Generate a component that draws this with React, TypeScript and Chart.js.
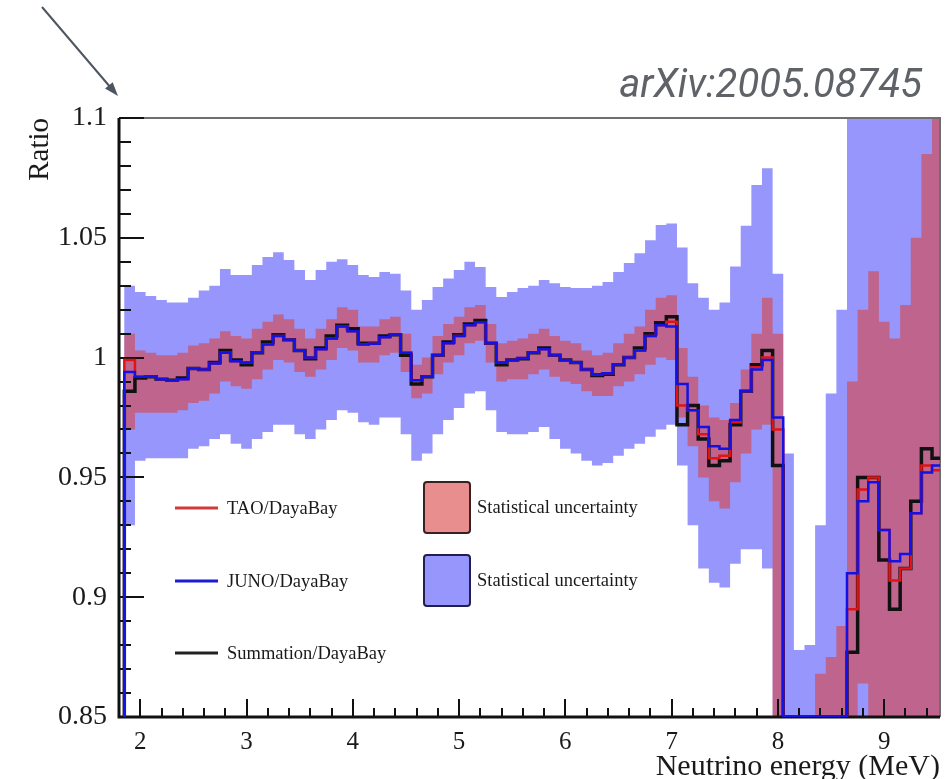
import React, { useEffect, useRef } from 'react';
import { Chart, registerables } from 'chart.js';

Chart.register(...registerables);

// Bin centres (MeV), bin width 0.1 MeV
const energy = [
  1.8, 1.9, 2.0, 2.1, 2.2, 2.3, 2.4, 2.5, 2.6, 2.7, 2.8, 2.9,
  3.0, 3.1, 3.2, 3.3, 3.4, 3.5, 3.6, 3.7, 3.8, 3.9,
  4.0, 4.1, 4.2, 4.3, 4.4, 4.5, 4.6, 4.7, 4.8, 4.9,
  5.0, 5.1, 5.2, 5.3, 5.4, 5.5, 5.6, 5.7, 5.8, 5.9,
  6.0, 6.1, 6.2, 6.3, 6.4, 6.5, 6.6, 6.7, 6.8, 6.9,
  7.0, 7.1, 7.2, 7.3, 7.4, 7.5, 7.6, 7.7, 7.8, 7.9,
  8.0, 8.1, 8.2, 8.3, 8.4, 8.5, 8.6, 8.7, 8.8, 8.9,
  9.0, 9.1, 9.2, 9.3, 9.4, 9.5,
];
const BIN_WIDTH = 0.1;

// JUNO/DayaBay ratio (blue line)
const junoRatio = [
  0.84, 0.994, 0.992, 0.992, 0.991, 0.9905, 0.991, 0.9955, 0.995, 0.9975, 1.002, 0.9985,
  0.998, 1.002, 1.0055, 1.009, 1.0075, 1.003, 1.0, 1.0035, 1.008, 1.013,
  1.011, 1.0055, 1.0058, 1.0085, 1.0095, 1.002, 0.9905, 0.992, 1.001, 1.006,
  1.009, 1.0135, 1.0148, 1.006, 0.998, 0.999, 0.9998, 1.002, 1.0035, 1.001,
  0.999, 0.998, 0.995, 0.993, 0.9935, 0.997, 1.0, 1.003, 1.009, 1.0135,
  1.013, 0.989, 0.978, 0.971, 0.963, 0.962, 0.974, 0.986, 0.995, 0.999,
  0.975, 0.85, 0.85, 0.85, 0.85, 0.85, 0.85, 0.91, 0.94, 0.948,
  0.928, 0.915, 0.918, 0.935, 0.952, 0.955,
];

// TAO/DayaBay ratio (red line)
const taoRatio = [
  0.84, 0.999, 0.992, 0.992, 0.991, 0.9905, 0.991, 0.9955, 0.995, 0.9975, 1.002, 0.9985,
  0.998, 1.002, 1.0055, 1.009, 1.0075, 1.003, 1.0, 1.0035, 1.008, 1.013,
  1.011, 1.0055, 1.0058, 1.0085, 1.0095, 1.002, 0.9905, 0.992, 1.001, 1.006,
  1.009, 1.0135, 1.0148, 1.006, 0.998, 0.999, 0.9998, 1.002, 1.0035, 1.001,
  0.999, 0.998, 0.995, 0.993, 0.9935, 0.997, 1.0, 1.003, 1.009, 1.0135,
  1.015, 0.98, 0.978, 0.968, 0.958, 0.959, 0.973, 0.986, 0.996, 1.0,
  0.97, 0.85, 0.85, 0.85, 0.85, 0.85, 0.85, 0.895, 0.945, 0.95,
  0.928, 0.907, 0.912, 0.935, 0.955, 0.953,
];

// Summation/DayaBay ratio (black line)
const summationRatio = [
  0.84, 0.986, 0.9915, 0.992, 0.991, 0.9905, 0.9915, 0.9955, 0.995, 0.998, 1.003, 0.999,
  0.997, 1.002, 1.0065, 1.0095, 1.0075, 1.003, 0.9995, 1.004, 1.009, 1.0135,
  1.012, 1.006, 1.006, 1.009, 1.0095, 1.001, 0.989, 0.992, 1.001, 1.0065,
  1.0095, 1.014, 1.0155, 1.006, 0.997, 0.999, 0.9995, 1.002, 1.004, 1.001,
  0.999, 0.998, 0.995, 0.9925, 0.993, 0.997, 1.0, 1.004, 1.01, 1.0145,
  1.017, 0.972, 0.98, 0.966, 0.955, 0.957, 0.972, 0.986, 0.997, 1.003,
  0.955, 0.85, 0.85, 0.85, 0.85, 0.85, 0.85, 0.877, 0.95, 0.95,
  0.9155, 0.895, 0.912, 0.94, 0.962, 0.958,
];

// JUNO statistical uncertainty band (blue)
const junoBandLow = [
  0.84, 0.93, 0.957, 0.958, 0.958, 0.958, 0.958, 0.962, 0.963, 0.966, 0.968, 0.964,
  0.962, 0.966, 0.969, 0.972, 0.972, 0.968, 0.966, 0.97, 0.974, 0.978,
  0.977, 0.973, 0.972, 0.975, 0.975, 0.968, 0.957, 0.96, 0.968, 0.974,
  0.979, 0.985, 0.986, 0.978, 0.969, 0.968, 0.968, 0.969, 0.971, 0.966,
  0.962, 0.96, 0.957, 0.955, 0.956, 0.959, 0.962, 0.964, 0.967, 0.97,
  0.972, 0.955, 0.93, 0.912, 0.906, 0.904, 0.914, 0.92, 0.92, 0.912,
  0.84, 0.84, 0.84, 0.84, 0.84, 0.84, 0.84, 0.84, 0.84, 0.84,
  0.84, 0.84, 0.84, 0.84, 0.84, 0.84,
];
const junoBandHigh = [
  0.84, 1.03, 1.0274, 1.0257, 1.024, 1.023, 1.023, 1.025, 1.028, 1.03, 1.037, 1.0345,
  1.0345, 1.0386, 1.042, 1.044, 1.0407, 1.0366, 1.0324, 1.0366, 1.04, 1.041,
  1.0386, 1.0345, 1.0336, 1.0357, 1.035, 1.028, 1.02, 1.024, 1.0295, 1.033,
  1.0366, 1.04, 1.0378, 1.0295, 1.0253, 1.0274, 1.029, 1.03, 1.0324, 1.031,
  1.0295, 1.029, 1.029, 1.03, 1.0316, 1.0357, 1.0395, 1.0436, 1.049, 1.0553,
  1.056, 1.046, 1.031, 1.025, 1.02, 1.023, 1.038, 1.055, 1.072, 1.079,
  1.035, 0.96, 0.878, 0.88, 0.93, 0.985, 1.02, 1.2, 1.2, 1.2,
  1.2, 1.2, 1.2, 1.2, 1.2, 1.2,
];

// TAO statistical uncertainty band (red)
const taoBandLow = [
  0.84, 0.97, 0.977, 0.977, 0.977, 0.977, 0.978, 0.981, 0.982, 0.985, 0.99, 0.988,
  0.987, 0.991, 0.995, 0.999, 0.998, 0.994, 0.992, 0.995, 0.999, 1.004,
  1.003, 0.998, 0.998, 1.001, 1.002, 0.994, 0.983, 0.985, 0.993, 0.998,
  1.001, 1.006, 1.007, 0.998, 0.99, 0.991, 0.991, 0.993, 0.995, 0.992,
  0.99, 0.989, 0.986, 0.984, 0.984, 0.988, 0.99, 0.993, 0.997, 1.0,
  0.999, 0.975, 0.963, 0.95, 0.94, 0.937, 0.948, 0.96, 0.97, 0.972,
  0.84, 0.84, 0.84, 0.84, 0.84, 0.84, 0.84, 0.84, 0.864, 0.84,
  0.84, 0.84, 0.84, 0.84, 0.84, 0.84,
];
const taoBandHigh = [
  0.84, 1.01, 1.003, 1.002, 1.001, 1.001, 1.002, 1.005, 1.006, 1.008, 1.011, 1.009,
  1.008, 1.012, 1.015, 1.018, 1.016, 1.012, 1.008, 1.012, 1.016, 1.021,
  1.02, 1.013, 1.013, 1.016, 1.017, 1.01, 0.997, 1.0, 1.009, 1.014,
  1.017, 1.021, 1.022, 1.014, 1.006, 1.007, 1.008, 1.01, 1.012, 1.009,
  1.007, 1.006, 1.003, 1.001, 1.002, 1.006, 1.01, 1.013, 1.02, 1.025,
  1.026, 1.004, 0.992, 0.98, 0.975, 0.974, 0.981, 0.995, 1.01, 1.025,
  1.01, 0.84, 0.84, 0.84, 0.868, 0.875, 0.888, 0.99, 1.02, 1.036,
  1.015, 1.008, 1.022, 1.05, 1.085, 1.12,
];

const xTickValues = [2, 3, 4, 5, 6, 7, 8, 9];
const xTickLabels = ['2', '3', '4', '5', '6', '7', '8', '9'];
const yTickValues = [0.85, 0.9, 0.95, 1, 1.05, 1.1];
const yTickLabels = ['0.85', '0.9', '0.95', '1', '1.05', '1.1'];

const lineLegend = [
  { label: 'TAO/DayaBay', color: '#d03a3a' },
  { label: 'JUNO/DayaBay', color: '#1c1cd0' },
  { label: 'Summation/DayaBay', color: '#222222' },
];
const boxLegend = [
  { label: 'Statistical uncertainty', fill: 'rgba(217,67,67,0.6)', stroke: '#3a2020' },
  { label: 'Statistical uncertainty', fill: 'rgb(150,150,252)', stroke: '#202050' },
];

const SERIF = '"Liberation Serif", "Times New Roman", serif';
const TEXT = '#1a1a1a';
const FIRST_LINE_DATASET = 4;

// Histogram steps: each value covers [centre - w/2, centre + w/2]
function toSteps(values: number[]) {
  const pts = values.map((v, i) => ({ x: energy[i] - BIN_WIDTH / 2, y: v }));
  pts.push({
    x: energy[energy.length - 1] + BIN_WIDTH / 2,
    y: values[values.length - 1],
  });
  return pts;
}

function drawFrame(chart: any) {
  const { ctx, chartArea } = chart;
  const { left, right, top, bottom } = chartArea;
  const xs = chart.scales.x;
  const ys = chart.scales.y;
  ctx.save();
  ctx.lineCap = 'butt';
  ctx.strokeStyle = '#6e6e6e';
  ctx.lineWidth = 2;
  ctx.beginPath();
  ctx.moveTo(left, top);
  ctx.lineTo(right, top);
  ctx.lineTo(right, bottom);
  ctx.stroke();

  ctx.strokeStyle = '#111111';
  ctx.lineWidth = 3;
  ctx.beginPath();
  ctx.moveTo(left, top);
  ctx.lineTo(left, bottom);
  ctx.lineTo(right, bottom);
  ctx.stroke();

  ctx.lineWidth = 2;
  ctx.beginPath();
  for (let k = 85; k <= 110; k++) {
    const py = Math.round(ys.getPixelForValue(k / 100));
    const len = k % 5 === 0 ? 25 : 12;
    ctx.moveTo(left, py);
    ctx.lineTo(left + len, py);
  }
  for (let k = 10; k <= 47; k++) {
    const px = Math.round(xs.getPixelForValue(k / 5));
    const len = k % 5 === 0 ? 18 : 9;
    ctx.moveTo(px, bottom);
    ctx.lineTo(px, bottom - len);
  }
  ctx.stroke();
  ctx.restore();
}

const framePlugin = {
  id: 'frameTicks',
  beforeDatasetDraw(chart: any, args: any) {
    if (args.index === FIRST_LINE_DATASET) drawFrame(chart);
  },
  afterDraw(chart: any) {
    const { ctx } = chart;
    ctx.save();
    ctx.font = `18.5px ${SERIF}`;
    ctx.textBaseline = 'middle';
    ctx.textAlign = 'left';
    const lineY = [508, 581, 653];
    lineLegend.forEach((item, i) => {
      ctx.strokeStyle = item.color;
      ctx.lineWidth = 3;
      ctx.beginPath();
      ctx.moveTo(175, lineY[i]);
      ctx.lineTo(218, lineY[i]);
      ctx.stroke();
      ctx.fillStyle = TEXT;
      ctx.fillText(item.label, 227, lineY[i] + 1);
    });
    const boxY = [482, 555];
    boxLegend.forEach((item, i) => {
      ctx.beginPath();
      if (ctx.roundRect) ctx.roundRect(424, boxY[i], 46, 51, 3);
      else ctx.rect(424, boxY[i], 46, 51);
      ctx.fillStyle = item.fill;
      ctx.fill();
      ctx.strokeStyle = item.stroke;
      ctx.lineWidth = 2;
      ctx.stroke();
      ctx.fillStyle = TEXT;
      ctx.fillText(item.label, 477, boxY[i] + 26);
    });
    ctx.restore();
  },
};

export default function App() {
  const canvasRef = useRef<HTMLCanvasElement | null>(null);

  useEffect(() => {
    if (!canvasRef.current) return;
    const bandBase = {
      borderWidth: 0,
      borderColor: 'rgba(0,0,0,0)',
      pointRadius: 0,
      stepped: 'before' as const,
    };
    const chart = new Chart(canvasRef.current, {
      type: 'line',
      data: {
        datasets: [
          { ...bandBase, label: 'juno-low', data: toSteps(junoBandLow), fill: false, order: 6 },
          {
            ...bandBase,
            label: 'juno-high',
            data: toSteps(junoBandHigh),
            fill: '-1',
            backgroundColor: 'rgb(150,150,252)',
            order: 5,
          },
          { ...bandBase, label: 'tao-low', data: toSteps(taoBandLow), fill: false, order: 4 },
          {
            ...bandBase,
            label: 'tao-high',
            data: toSteps(taoBandHigh),
            fill: '-1',
            backgroundColor: 'rgba(217,67,67,0.6)',
            order: 3,
          },
          {
            label: 'Summation/DayaBay',
            data: toSteps(summationRatio),
            borderColor: '#111111',
            borderWidth: 3.5,
            pointRadius: 0,
            stepped: 'before',
            fill: false,
            order: 2,
          },
          {
            label: 'TAO/DayaBay',
            data: toSteps(taoRatio),
            borderColor: '#e01414',
            borderWidth: 2.5,
            pointRadius: 0,
            stepped: 'before',
            fill: false,
            order: 1,
          },
          {
            label: 'JUNO/DayaBay',
            data: toSteps(junoRatio),
            borderColor: '#1212e6',
            borderWidth: 2.5,
            pointRadius: 0,
            stepped: 'before',
            fill: false,
            order: 0,
          },
        ],
      },
      options: {
        animation: false,
        responsive: true,
        maintainAspectRatio: false,
        layout: { padding: { top: 118, right: 12, left: 0, bottom: 0 } },
        plugins: {
          legend: { display: false },
          tooltip: { enabled: false },
        },
        elements: { point: { radius: 0 } },
        scales: {
          x: {
            type: 'linear',
            min: 1.8,
            max: 9.525,
            afterFit: (s: any) => {
              s.height = 62;
            },
            afterBuildTicks: (s: any) => {
              s.ticks = xTickValues.map((v) => ({ value: v }));
            },
            grid: { display: false, drawTicks: false },
            border: { display: false },
            ticks: {
              autoSkip: false,
              maxRotation: 0,
              padding: 10,
              color: TEXT,
              font: { family: SERIF, size: 25 },
              callback: (_v: any, i: number) => xTickLabels[i],
            },
            title: {
              display: true,
              text: 'Neutrino energy (MeV)',
              align: 'end',
              color: TEXT,
              font: { family: SERIF, size: 30, lineHeight: 0.8 },
              padding: { top: 0, bottom: 0 },
            },
          },
          y: {
            type: 'linear',
            min: 0.85,
            max: 1.1,
            afterFit: (s: any) => {
              s.width = 119;
            },
            afterBuildTicks: (s: any) => {
              s.ticks = yTickValues.map((v) => ({ value: v }));
            },
            grid: { display: false, drawTicks: false },
            border: { display: false },
            ticks: {
              autoSkip: false,
              padding: 12,
              color: TEXT,
              font: { family: SERIF, size: 28 },
              callback: (_v: any, i: number) => yTickLabels[i],
            },
            title: {
              display: true,
              text: 'Ratio',
              align: 'end',
              color: TEXT,
              font: { family: SERIF, size: 29 },
              padding: { top: 23, bottom: 0 },
            },
          },
        },
      },
      plugins: [framePlugin],
    } as any);
    return () => chart.destroy();
  }, []);

  return (
    <div style={{ position: 'fixed', left: 0, top: 0, width: 952, height: 779, background: '#ffffff' }}>
      <canvas ref={canvasRef} />
      <svg
        width={952}
        height={779}
        style={{ position: 'absolute', left: 0, top: 0, pointerEvents: 'none' }}
      >
        <line x1={42} y1={7} x2={111} y2={88} stroke="#4d5660" strokeWidth={2} />
        <polygon points="118,96 105,88.6 112.7,82.2" fill="#4d5660" />
        <text
          x={922}
          y={97}
          textAnchor="end"
          fontFamily="Roboto, sans-serif"
          fontStyle="italic"
          fontSize={40}
          fill="#5f6368"
        >
          arXiv:2005.08745
        </text>
      </svg>
    </div>
  );
}
